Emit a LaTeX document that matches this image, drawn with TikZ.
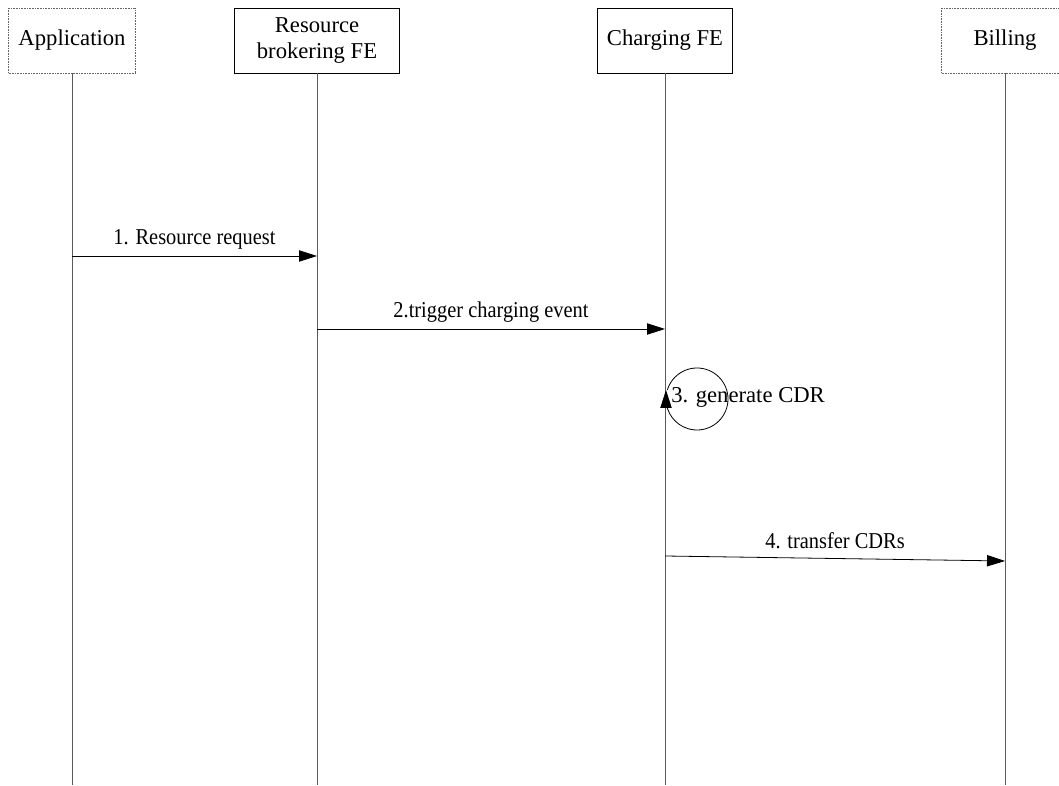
\documentclass[tikz,border=0pt]{standalone}
\usepackage{fontspec}
\setmainfont{Liberation Serif}
\usetikzlibrary{arrows.meta}

\begin{document}
\begin{tikzpicture}[x=0.75pt, y=0.75pt,
  entity/.style={draw, line width=0.7pt, minimum height=48.75pt, align=center,
                 inner sep=2pt, font=\fontsize{17}{19}\selectfont},
  dottedbox/.style={entity, draw=gray!80!black, dash pattern=on 0.6pt off 0.6pt},
  life/.style={draw=gray!70!black, line width=0.7pt},
  msg/.style={line width=0.6pt, -{Triangle[length=13.5pt, width=8.5pt]}},
  msglabel/.style={font=\fontsize{17}{19}\selectfont\addfontfeature{FakeStretch=0.9},
                   inner sep=3pt}]

  % page frame
  \useasboundingbox[fill=white] (0,0) rectangle (1059,785);

  % entities
  \node[dottedbox, minimum width=95pt]  (app)  at (72,744.5)   {Application};
  \node[entity,    minimum width=124pt] (rb)   at (317,744.5)  {Resource\\brokering FE};
  \node[entity,    minimum width=101pt] (chg)  at (665,744.5)  {Charging FE};
  \node[dottedbox, minimum width=95pt]  (bill) at (1005,744.5) {Billing};

  % lifelines down to the bottom edge
  \foreach \e in {app, rb, chg, bill}
    \draw[life] (\e.south) -- (\e.south |- 0,0);

  % 1. resource request
  \coordinate (m1a) at (72,529);
  \coordinate (m1b) at (317,529);
  \draw[msg] (m1a) -- node[msglabel, above=1.5pt] {1. Resource request} (m1b);

  % 2. charging event
  \coordinate (m2a) at (317,456);
  \coordinate (m2b) at (665,456);
  \draw[msg] (m2a) -- node[msglabel, above=1.5pt] {2.trigger charging event} (m2b);

  % 3. self loop on the charging FE (head sits upright on the lifeline)
  \coordinate (loopc) at (697,386);
  \draw[msg] ([shift={(163:31)}]loopc) arc[start angle=163, end angle=-180, radius=31]
    -- ++(0,9);
  \node[anchor=west, inner sep=0pt, font=\fontsize{17}{19}\selectfont] (gen) at (671,388) {3. generate CDR};

  % 4. transfer to billing
  \coordinate (m4a) at (665,229);
  \coordinate (m4b) at (1005,224);
  \draw[msg] (m4a) -- node[msglabel, above=4pt] {4. transfer CDRs} (m4b);

\end{tikzpicture}
\end{document}
